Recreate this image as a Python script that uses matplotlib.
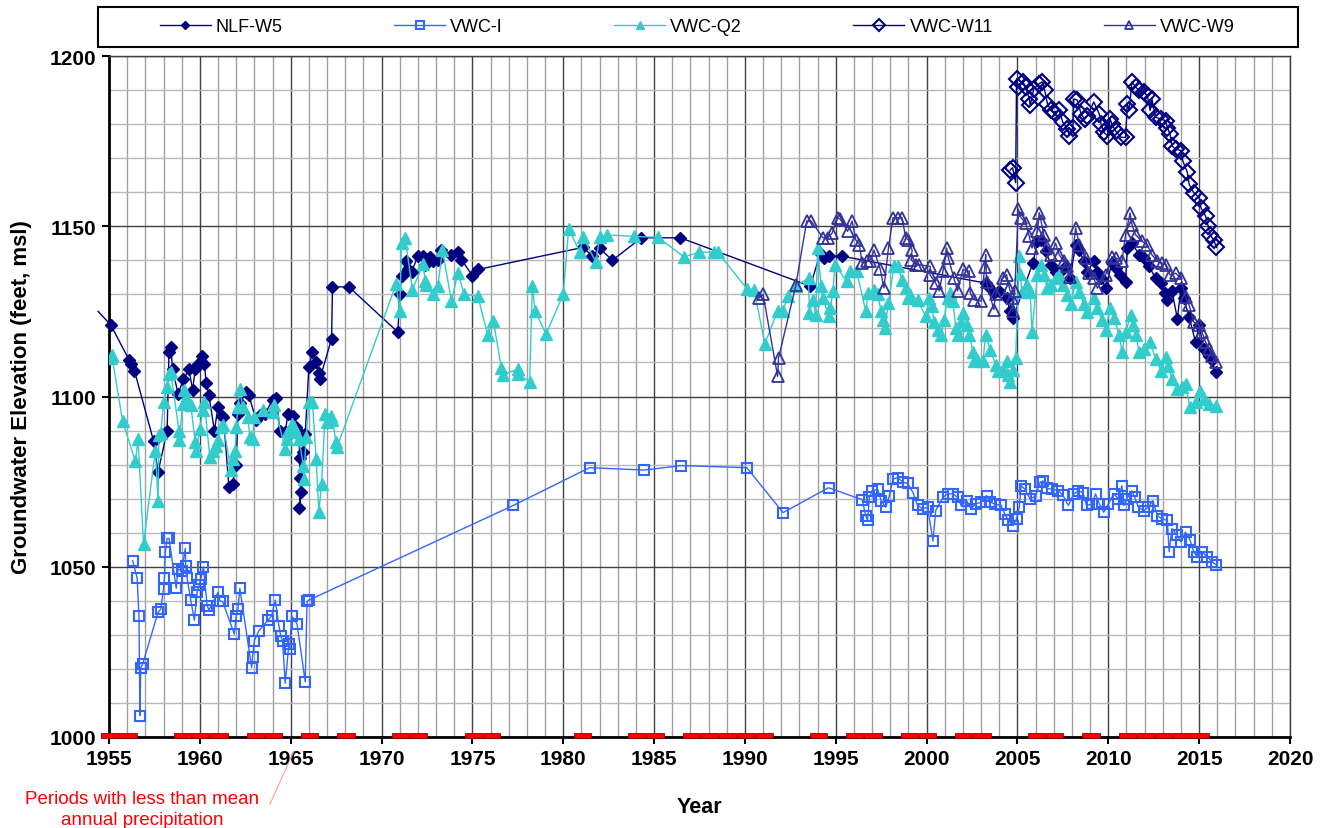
import numpy as np
import matplotlib
matplotlib.use("Agg")
import matplotlib.pyplot as plt
from matplotlib.ticker import MultipleLocator
from matplotlib.lines import Line2D
from matplotlib.patches import Rectangle

plt.rcParams['font.family'] = ['Liberation Sans', 'DejaVu Sans']

# ---- data ----
nlf_yr = [1954.4, 1955.1, 1956.1, 1956.2, 1956.4, 1957.45, 1957.7, 1958.2, 1958.3, 1958.4,
          1958.5, 1958.8, 1959.1, 1959.4, 1959.6, 1959.75, 1959.9, 1960.1, 1960.25, 1960.35,
          1960.5, 1960.8, 1961.0, 1961.2, 1961.3, 1961.6, 1961.8, 1962.0, 1962.1, 1962.2,
          1962.55, 1962.7, 1963.1, 1963.3, 1963.6, 1964.0, 1964.2, 1964.4, 1964.7, 1964.85,
          1965.1, 1965.3, 1965.45, 1965.5, 1965.52, 1965.55, 1965.48, 1965.68, 1965.8, 1966.0,
          1966.2, 1966.4, 1966.55, 1966.6, 1967.25, 1967.3, 1968.2, 1970.9, 1971.0, 1971.1,
          1971.35, 1971.45, 1971.65, 1972.0, 1972.3, 1972.4, 1972.65, 1972.85, 1973.1, 1973.3,
          1973.85, 1974.2, 1974.4, 1975.0, 1975.3, 1981.1, 1981.6, 1982.0, 1982.7, 1984.3,
          1986.45, 1993.6, 1994.15, 1994.35, 1994.6, 1995.35, 2003.25, 2003.4, 2003.7, 2004.0,
          2004.4, 2004.6, 2004.75, 2005.85, 2006.1, 2006.3, 2006.55, 2006.85, 2007.1, 2007.35,
          2007.65, 2007.9, 2008.2, 2008.4, 2008.65, 2008.85, 2009.2, 2009.4, 2009.6, 2009.85,
          2010.2, 2010.4, 2010.65, 2010.95, 2011.05, 2011.3, 2011.7, 2011.95, 2012.25, 2012.6,
          2012.9, 2013.1, 2013.25, 2013.5, 2013.8, 2014.0, 2014.15, 2014.45, 2014.8, 2015.0,
          2015.25, 2015.55, 2015.7, 2015.9]
nlf_val = [1125, 1121, 1110.8, 1109.6, 1107.6, 1087, 1077.8, 1090, 1113, 1114.5,
           1108, 1100.8, 1105, 1108, 1102, 1108, 1109.6, 1112, 1109.5, 1104,
           1100.3, 1090, 1097, 1094.4, 1094, 1073.4, 1074.4, 1080, 1095, 1098,
           1101.3, 1100.3, 1093, 1094.5, 1095, 1099, 1099.5, 1090, 1089.5, 1095,
           1094.4, 1091, 1089.5, 1082, 1076, 1072, 1067.3, 1083.7, 1089, 1108.6,
           1113, 1110, 1107, 1105, 1117, 1132.2, 1132.2, 1118.9, 1130, 1135.5,
           1139.7, 1137.5, 1136.6, 1141.2, 1141.4, 1138.7, 1141, 1139.8, 1140.2, 1143,
           1141.7, 1142.5, 1140.2, 1135.5, 1137.3, 1143.8, 1141.2, 1143.6, 1140, 1146.6,
           1146.6, 1132.4, 1142.2, 1140.6, 1141.2, 1141.2, 1133.3, 1132.4, 1130.4, 1131,
           1129, 1125, 1123, 1139.2, 1145.6, 1146, 1142.6, 1138.7, 1136.7, 1136.7,
           1138.2, 1134.7, 1144.6, 1143.1, 1139.7, 1136.7, 1139.7, 1136.7, 1134.7, 1131.8,
           1139.2, 1137.8, 1135.7, 1133.7, 1143.6, 1145.1, 1141.6, 1140.6, 1138.2, 1134.7,
           1133.3, 1130.5, 1128.3, 1131, 1122.9, 1131.8, 1128.8, 1123.4, 1116, 1120.9,
           1114, 1112, 1110.6, 1107.2]

vwci_yr = [1956.3, 1956.55, 1956.65, 1956.7, 1956.75, 1956.85, 1957.7, 1957.85, 1958.0, 1958.05,
           1958.1, 1958.2, 1958.3, 1958.7, 1958.8, 1959.0, 1959.2, 1959.22, 1959.3, 1959.5,
           1959.7, 1959.85, 1959.95, 1960.05, 1960.2, 1960.4, 1960.5, 1961.0, 1961.1, 1961.25,
           1961.9, 1962.0, 1962.1, 1962.2, 1962.85, 1962.9, 1963.0, 1963.25, 1963.75, 1963.95,
           1964.15, 1964.35, 1964.45, 1964.55, 1964.7, 1964.9, 1964.95, 1965.05, 1965.35, 1965.8,
           1965.9, 1966.0, 1977.25, 1981.45, 1984.45, 1986.5, 1990.1, 1992.1, 1994.6, 1996.45,
           1996.65, 1996.75, 1996.85, 1997.0, 1997.3, 1997.5, 1997.75, 1997.95, 1998.15, 1998.4,
           1998.7, 1998.95, 1999.25, 1999.5, 1999.8, 2000.05, 2000.35, 2000.5, 2000.9, 2001.15,
           2001.45, 2001.7, 2001.9, 2002.2, 2002.45, 2002.7, 2003.0, 2003.3, 2003.5, 2003.75,
           2004.1, 2004.3, 2004.5, 2004.75, 2004.95, 2005.1, 2005.2, 2005.4, 2005.7, 2006.0,
           2006.25, 2006.4, 2006.6, 2006.9, 2007.25, 2007.5, 2007.8, 2008.1, 2008.35, 2008.6,
           2008.8, 2009.1, 2009.3, 2009.5, 2009.75, 2010.0, 2010.3, 2010.55, 2010.75, 2010.85,
           2011.0, 2011.3, 2011.45, 2011.65, 2011.95, 2012.2, 2012.45, 2012.7, 2012.95, 2013.25,
           2013.35, 2013.5, 2013.8, 2014.0, 2014.25, 2014.5, 2014.7, 2014.9, 2015.15, 2015.45,
           2015.7, 2015.95]
vwci_val = [1051.8, 1046.6, 1035.4, 1006.3, 1020.4, 1021.4, 1036.6, 1037.6, 1043.6, 1046.6,
            1054.2, 1058.3, 1058.3, 1043.7, 1049.3, 1048.8, 1055.4, 1050.3, 1046.6, 1040.2,
            1034.3, 1042.5, 1044.5, 1046.4, 1050, 1038.6, 1037.3, 1042.5, 1040, 1039.8,
            1030.2, 1035.6, 1037.6, 1043.7, 1020.4, 1023.4, 1028.3, 1031.2, 1034.3, 1035.6,
            1040.2, 1032.7, 1029.7, 1028.3, 1015.8, 1027.3, 1025.8, 1035.6, 1033.2, 1016.2,
            1039.8, 1040.2, 1068, 1079.1, 1078.4, 1079.7, 1079.1, 1065.9, 1073.2, 1069.7,
            1065, 1063.6, 1070.4, 1072.3, 1072.8, 1069.4, 1067.5, 1070.9, 1075.7, 1076.2,
            1074.8, 1074.5, 1071.8, 1068, 1067, 1067.5, 1057.6, 1066.5, 1070.4, 1071.4,
            1071.4, 1070.4, 1068, 1069.4, 1067, 1068.5, 1068.9, 1070.9, 1069, 1068.4,
            1068, 1065.5, 1063.6, 1062.1, 1064.1, 1067.5, 1073.8, 1072.8, 1069.9, 1070.8,
            1074.8, 1075.2, 1073, 1072.8, 1072.3, 1071, 1068, 1071.4, 1072.3, 1071.8,
            1068, 1068.4, 1071.4, 1068.5, 1066, 1068.4, 1071.4, 1070, 1073.8, 1068,
            1069.9, 1072.3, 1070.5, 1067.5, 1066.5, 1067.5, 1069.4, 1065, 1064.1, 1063.6,
            1054.4, 1061.2, 1059.2, 1057.3, 1060.2, 1057.8, 1054.4, 1052.9, 1054.4, 1052.9,
            1051.5, 1050.5]

q2_yr = [1955.1, 1955.15, 1955.75, 1956.45, 1956.6, 1956.9, 1957.55, 1957.7, 1957.75, 1957.85,
         1958.0, 1958.2, 1958.3, 1958.4, 1958.85, 1958.87, 1959.05, 1959.15, 1959.25, 1959.5,
         1959.75, 1959.8, 1960.0, 1960.15, 1960.25, 1960.55, 1960.75, 1960.9, 1961.0, 1961.15,
         1961.3, 1961.7, 1961.85, 1961.95, 1962.0, 1962.1, 1962.2, 1962.35, 1962.65, 1962.75,
         1962.9, 1963.0, 1963.5, 1964.0, 1964.1, 1964.7, 1964.8, 1964.85, 1965.05, 1965.2,
         1965.3, 1965.45, 1965.7, 1965.72, 1965.85, 1966.0, 1966.2, 1966.4, 1966.55, 1966.7,
         1966.9, 1967.0, 1967.2, 1967.3, 1967.5, 1967.55, 1970.8, 1971.0, 1971.1, 1971.3,
         1971.7, 1972.3, 1972.4, 1972.45, 1972.85, 1973.1, 1973.35, 1973.85, 1974.2, 1974.55,
         1975.3, 1975.85, 1976.15, 1976.6, 1976.7, 1977.5, 1977.52, 1978.15, 1978.3, 1978.45,
         1979.05, 1980.0, 1980.3, 1980.9, 1981.1, 1981.8, 1982.0, 1982.4, 1983.9, 1985.2,
         1986.65, 1987.5, 1988.3, 1988.5, 1990.1, 1990.5, 1991.1, 1991.8, 1992.1, 1992.35,
         1992.8, 1993.5, 1993.55, 1993.75, 1993.9, 1994.0, 1994.2, 1994.3, 1994.6, 1994.7,
         1994.85, 1994.95, 1995.6, 1995.8, 1996.15, 1996.65, 1996.8, 1997.1, 1997.3, 1997.5,
         1997.6, 1997.7, 1997.9, 1998.2, 1998.4, 1998.65, 1998.85, 1998.95, 1999.1, 1999.5,
         1999.95, 2000.15, 2000.3, 2000.4, 2000.65, 2000.8, 2000.95, 2001.15, 2001.3, 2001.45,
         2001.6, 2001.7, 2001.9, 2002.0, 2002.25, 2002.35, 2002.55, 2002.6, 2002.8, 2003.1,
         2003.25, 2003.5, 2003.8, 2003.95, 2004.2, 2004.4, 2004.5, 2004.6, 2004.75, 2004.9,
         2005.1, 2005.15, 2005.25, 2005.55, 2005.7, 2005.8, 2006.1, 2006.3, 2006.45, 2006.65,
         2006.85, 2007.1, 2007.3, 2007.5, 2007.75, 2007.95, 2008.2, 2008.4, 2008.65, 2008.85,
         2009.2, 2009.4, 2009.65, 2009.85, 2010.1, 2010.3, 2010.6, 2010.75, 2010.95, 2011.25,
         2011.35, 2011.5, 2011.7, 2011.95, 2012.3, 2012.6, 2012.9, 2013.15, 2013.3, 2013.5,
         2013.8, 2014.05, 2014.25, 2014.5, 2014.8, 2015.05, 2015.25, 2015.55, 2015.9]
q2_val = [1111.3, 1112.2, 1092.7, 1081, 1087.4, 1056.6, 1084.1, 1069.2, 1088.6, 1089.2,
          1098.3, 1102.7, 1106.7, 1107.2, 1090, 1087.1, 1097.8, 1101.8, 1099.5, 1097.4,
          1086.6, 1084.1, 1090.5, 1095.9, 1098.3, 1082.2, 1084.1, 1085.6, 1087.1, 1091,
          1091.7, 1078.3, 1081.7, 1084.1, 1091, 1096.9, 1102.3, 1096.9, 1093.9, 1088,
          1087.6, 1094, 1095.9, 1095.4, 1097.4, 1084.6, 1087.6, 1090, 1092, 1091,
          1089.5, 1087.6, 1079.7, 1075.8, 1088, 1098.3, 1098.3, 1081.7, 1066.1, 1074.4,
          1095, 1092.5, 1094.4, 1093, 1086.6, 1085.1, 1133, 1125, 1145, 1146.6,
          1131.4, 1139, 1133.8, 1132.8, 1130, 1132.4, 1143, 1128, 1136.3, 1130,
          1129.4, 1118, 1122.3, 1108.3, 1106.4, 1108.1, 1106.5, 1104.4, 1132.4, 1125.2,
          1118.3, 1130, 1149.3, 1142.5, 1146.8, 1139.4, 1146.8, 1147.5, 1147, 1146.8,
          1141, 1142.4, 1142.4, 1142.4, 1131.7, 1131.4, 1115.5, 1125.2, 1125.2, 1129.4,
          1132.4, 1134.8, 1124.5, 1128.4, 1124, 1143.6, 1132.4, 1129, 1123.5, 1126,
          1130.9, 1138.7, 1133.8, 1136.8, 1136.8, 1125, 1130.4, 1131.4, 1130, 1125,
          1122.5, 1120.1, 1127.5, 1138.2, 1138.2, 1134.3, 1131.8, 1128.9, 1129.8, 1128.4,
          1123.5, 1128.9, 1126.5, 1122, 1119.6, 1118.1, 1122.5, 1128.9, 1130.4, 1128,
          1120.1, 1118.1, 1122, 1124.5, 1121, 1118.1, 1113.2, 1110.3, 1110.8, 1110.3,
          1118.1, 1113.7, 1109.3, 1107.4, 1107.8, 1110.3, 1106.4, 1104.4, 1107.8, 1111.3,
          1141.2, 1136, 1130.8, 1132.8, 1130.8, 1119, 1135.7, 1138.7, 1135.7, 1131.8,
          1132.8, 1134.7, 1135.7, 1132.8, 1129.8, 1127.3, 1133.7, 1130.8, 1127.3, 1124.9,
          1128.8, 1125.9, 1122.4, 1119.5, 1125.9, 1123, 1118, 1113.1, 1119, 1123.9,
          1121, 1118, 1113.1, 1114, 1116, 1111.1, 1107.6, 1111.6, 1109, 1105.2,
          1102.2, 1102.7, 1103.7, 1096.8, 1098.3, 1101.7, 1099.3, 1097.8, 1097.3]

w11_yr = [2004.6, 2004.73, 2004.9, 2004.95, 2005.05, 2005.3, 2005.45, 2005.65, 2005.7, 2005.9,
          2006.2, 2006.35, 2006.5, 2006.65, 2006.85, 2007.0, 2007.3, 2007.5, 2007.75, 2007.85,
          2008.05, 2008.1, 2008.3, 2008.5, 2008.7, 2008.85, 2009.2, 2009.5, 2009.6, 2009.75,
          2009.95, 2010.1, 2010.2, 2010.4, 2010.7, 2010.95, 2011.05, 2011.15, 2011.3, 2011.5,
          2011.7, 2011.95, 2012.15, 2012.3, 2012.4, 2012.6, 2012.9, 2013.15, 2013.25, 2013.4,
          2013.5, 2013.7, 2014.0, 2014.1, 2014.35, 2014.45, 2014.7, 2015.0, 2015.1, 2015.35,
          2015.5, 2015.6, 2015.8, 2015.95]
w11_val = [1166.5, 1167.2, 1162.8, 1193.3, 1191, 1192.4, 1190.9, 1187.4, 1185.5, 1190.4,
           1191.9, 1192.4, 1189.9, 1186, 1184, 1183.5, 1184, 1180.5, 1178.6, 1176.6,
           1179, 1187.4, 1187, 1183, 1181.5, 1182.5, 1186.5, 1183, 1180, 1177.6,
           1176.6, 1181.5, 1180, 1178, 1176.1, 1176.1, 1186, 1184, 1192.4, 1190.9,
           1189.9, 1189.4, 1188.4, 1184, 1187.4, 1182, 1181.5, 1181, 1179, 1177,
           1173.6, 1172.7, 1172.2, 1169.2, 1165.8, 1162.3, 1159.9, 1158.4, 1155.4, 1153,
           1150, 1147.5, 1146, 1143.8]

w9_yr = [1990.8, 1991.0, 1991.8, 1991.85, 1992.8, 1993.4, 1993.65, 1994.3, 1994.55, 1994.8,
         1995.1, 1995.25, 1995.65, 1995.9, 1996.1, 1996.3, 1996.45, 1996.7, 1996.9, 1997.1,
         1997.45, 1997.65, 1997.9, 1998.15, 1998.4, 1998.65, 1998.85, 1999.0, 1999.2, 1999.15,
         1999.4, 1999.6, 2000.2, 2000.18, 2000.5, 2000.7, 2000.9, 2001.1, 2001.2, 2001.5,
         2001.7, 2002.0, 2002.35, 2002.4, 2002.6, 2003.0, 2003.2, 2003.25, 2003.3, 2003.7,
         2003.8, 2004.2, 2004.4, 2004.55, 2004.7, 2004.75, 2004.85, 2005.05, 2005.2, 2005.45,
         2005.65, 2005.8, 2006.1, 2006.2, 2006.3, 2006.45, 2006.65, 2006.85, 2007.1, 2007.3,
         2007.55, 2007.75, 2007.9, 2008.2, 2008.4, 2008.75, 2008.95, 2009.2, 2009.4, 2009.85,
         2010.2, 2010.45, 2010.75, 2010.95, 2011.2, 2011.3, 2011.5, 2011.85, 2012.15, 2012.4,
         2012.7, 2012.95, 2013.15, 2013.4, 2013.7, 2014.0, 2014.25, 2014.45, 2014.7, 2015.0,
         2015.15, 2015.35, 2015.55, 2015.7, 2015.95]
w9_val = [1129, 1130, 1105.9, 1111.3, 1132.6, 1151.5, 1151.5, 1146.6, 1146.6, 1148,
          1152.5, 1152, 1148.5, 1151.5, 1146, 1144.6, 1139.2, 1139.7, 1139.7, 1143,
          1137.3, 1131.9, 1143.6, 1152.5, 1152.5, 1152.5, 1146.6, 1146, 1143, 1140.2,
          1138.7, 1138.7, 1138.2, 1135.8, 1133.3, 1131, 1136.8, 1143.6, 1140.6, 1134.8,
          1131, 1137.3, 1136.8, 1130.4, 1128.4, 1128, 1138, 1141.7, 1133.5, 1125.5,
          1130, 1134.8, 1135.8, 1132, 1129, 1125, 1131, 1155, 1152.5, 1151,
          1147, 1143.6, 1148.5, 1154, 1151.5, 1147.5, 1144, 1141.6, 1145, 1141.6,
          1139.7, 1138.2, 1135.2, 1149.5, 1144.6, 1140.6, 1136.2, 1134.7, 1131.8, 1135.7,
          1141.1, 1140.6, 1139.7, 1147.5, 1153.9, 1150.5, 1147.5, 1145.6, 1144.6, 1141.6,
          1139.7, 1139.2, 1138.7, 1135.7, 1136.2, 1134.7, 1129.3, 1126.8, 1121.9, 1120.9,
          1119, 1116, 1114, 1112, 1110.1]

dry_years = [1955, 1956, 1959, 1960, 1961, 1963, 1964, 1966, 1968, 1971, 1972, 1975, 1976,
             1981, 1984, 1985, 1987, 1988, 1989, 1990, 1991, 1994, 1996, 1997, 1999, 2000,
             2002, 2003, 2006, 2007, 2009, 2011, 2012, 2013, 2014, 2015]

W, H = 1326, 829
fig = plt.figure(figsize=(W / 100, H / 100), dpi=100)
ax = fig.add_axes([109 / W, 1 - 738 / H, (1290 - 109) / W, (738 - 57) / H])

ax.plot(nlf_yr, nlf_val, color='#000080', lw=1, marker='D', ms=6, mfc='#000080',
        mec='#000080', markevery=slice(1, None), clip_on=False, label='NLF-W5', zorder=3)
ax.plot(vwci_yr, vwci_val, color='#3366ff', lw=1, marker='s', ms=7, mfc='none',
        mec='#3366ff', mew=1.5, label='VWC-I', zorder=3)
ax.plot(q2_yr, q2_val, color='#33cccc', lw=1, marker='^', ms=8, mfc='#33cccc',
        mec='#33cccc', label='VWC-Q2', zorder=3)
ax.plot(w11_yr, w11_val, color='#000080', lw=1, marker='D', ms=8, mfc='none',
        mec='#000080', mew=1.5, label='VWC-W11', zorder=3)
ax.plot(w9_yr, w9_val, color='#333399', lw=1, marker='^', ms=8, mfc='none',
        mec='#333399', mew=1.3, label='VWC-W9', zorder=3)

# dry periods along the bottom
ax.bar(np.array(dry_years) + 0.05, 1.5, width=0.95, bottom=999.6, color='#ff0000',
       edgecolor='#990000', lw=0.6, clip_on=False, zorder=4)

ax.set_xlim(1955, 2020)
ax.set_ylim(1000, 1200)
ax.xaxis.set_major_locator(MultipleLocator(5))
ax.xaxis.set_minor_locator(MultipleLocator(1))
ax.yaxis.set_major_locator(MultipleLocator(50))
ax.yaxis.set_minor_locator(MultipleLocator(10))
ax.set_axisbelow(True)
ax.grid(which='minor', axis='x', color='#a0a0a0', lw=1)
ax.grid(which='minor', axis='y', color='#b8b8b8', lw=1)
ax.grid(which='major', color='#404040', lw=1)
ax.tick_params(which='minor', length=0)
ax.tick_params(which='major', length=5, width=1.5, direction='out', pad=4,
               labelsize=15)
for lab in ax.get_xticklabels() + ax.get_yticklabels():
    lab.set_fontweight('bold')
for s in ['left', 'bottom']:
    ax.spines[s].set_linewidth(2)
    ax.spines[s].set_color('black')
for s in ['top', 'right']:
    ax.spines[s].set_linewidth(1)
    ax.spines[s].set_color('#404040')

ax.set_ylabel('Groundwater Elevation (feet, msl)', fontsize=16, fontweight='bold')
ax.yaxis.set_label_coords(-0.065, 0.5)
ax.set_xlabel('Year', fontsize=15.5, fontweight='bold')
ax.xaxis.set_label_coords(0.5, -0.086)

# legend box
fig.patches.append(Rectangle((98 / W, 1 - 48 / H), 1200 / W, 40 / H, transform=fig.transFigure,
                             fill=False, edgecolor='black', lw=1.5))
fig.legend(loc='center', bbox_to_anchor=(160 / W, 1 - 48 / H, (1235 - 160) / W, 40 / H),
           mode='expand', ncol=5, frameon=False, fontsize=13, handlelength=2.8,
           handletextpad=0.3, markerscale=0.75, borderaxespad=0, borderpad=0)

fig.text(142 / W, 1 - 810 / H, 'Periods with less than mean\nannual precipitation',
         color='red', fontsize=13.5, ha='center', va='center', linespacing=1.25)
fig.lines.append(Line2D([270 / W, 294 / W], [1 - 805 / H, 1 - 752 / H],
                        transform=fig.transFigure, color='#ff9999', lw=0.8))

fig.savefig('out.png', dpi=100)
